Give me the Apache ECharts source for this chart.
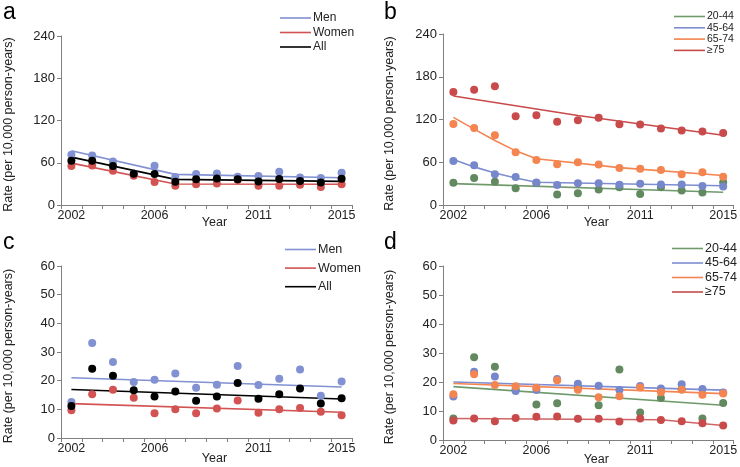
<!DOCTYPE html>
<html>
<head>
    <meta charset="utf-8">
    <title>rates</title>
    <script src="https://cdn.jsdelivr.net/npm/echarts@6/dist/echarts.min.js"></script>
</head>
<body style="margin:0">
    <div id="main" style="width: 740px;height:467px;"></div>
    <script type="text/javascript">
        // years + which ones get a label
        var years = ['2002','2003','2004','2005','2006','2007','2008','2009','2010','2011','2012','2013','2014','2015'];
        var yearLabels = ['2002','2006','2011','2015'];

        // panel a: by sex, 0-240
        var menA   = [71.3, 70.4, 61.9, 44.5, 55.7, 39.7, 43.9, 44.9, 40.2, 41.1, 47.2, 39.2, 38.3, 45.8];
        var womenA = [55.3, 56.2, 48.7, 41.6, 32.6, 27.4, 29.3, 30.7, 35.4, 27.4, 27.4, 28.8, 25.5, 29.3];
        var allA   = [62.8, 62.8, 55.3, 44.4, 43.9, 33.1, 36.4, 37.8, 36.4, 33.5, 36.8, 34.0, 32.1, 37.3];
        var menFitA   = [['2002', 77], ['2007', 43.5], ['2015', 38.7]];
        var womenFitA = [['2002', 59.5], ['2007', 29.8], ['2015', 29.5]];
        var allFitA   = [['2002', 68], ['2007', 36.4], ['2015', 33.5]];

        // panel b: by age, 0-240
        var g2044B = [31.2, 37.8, 32.6, 23.6, 31.0, 14.6, 16.5, 21.7, 25.0, 15.6, 25.0, 20.3, 17.5, 32.1];
        var g4564B = [61.9, 55.7, 43.0, 39.2, 31.7, 27.9, 30.7, 30.7, 28.3, 29.8, 28.8, 28.8, 26.5, 26.0];
        var g6574B = [113.8, 108.2, 97.8, 74.2, 63.3, 57.2, 60.0, 56.7, 52.0, 51.0, 49.1, 43.0, 45.8, 39.7];
        var g75B   = [158.7, 161.6, 166.8, 124.7, 126.1, 116.7, 119.0, 122.4, 113.4, 112.9, 107.2, 104.4, 103.0, 101.1];
        var g2044FitB = [['2002', 30], ['2015', 18]];
        var g4564FitB = [['2002', 64], ['2003', 53.5], ['2004', 45], ['2005', 38], ['2006', 32], ['2015', 27]];
        var g6574FitB = [['2002', 123], ['2003', 106.5], ['2004', 90.5], ['2005', 76], ['2006', 65], ['2010', 52.5], ['2015', 41.5]];
        var g75FitB   = [['2002', 153], ['2008', 125.5], ['2015', 98]];

        // panel c: by sex, 0-60
        var menC   = [12.6, 33.1, 26.5, 19.5, 20.3, 22.5, 17.5, 18.6, 25.1, 18.5, 20.7, 23.9, 14.7, 19.7];
        var womenC = [9.7, 15.3, 16.8, 14.0, 8.6, 10.0, 8.6, 10.3, 13.1, 8.8, 10.0, 10.5, 9.2, 7.9];
        var allC   = [11.2, 24.2, 21.7, 16.7, 14.5, 16.2, 13.0, 14.5, 19.2, 13.7, 15.3, 17.3, 12.0, 13.9];
        var menFitC   = [['2002', 21], ['2015', 17.8]];
        var womenFitC = [['2002', 12], ['2015', 9]];
        var allFitC   = [['2002', 16.9], ['2015', 13.6]];

        // panel d: by age, 0-60
        var g2044D = [7.4, 28.5, 25.3, 17.5, 12.2, 12.7, 18.0, 12.0, 24.3, 9.5, 14.5, 17.5, 7.4, 12.8];
        var g4564D = [15.0, 23.5, 21.9, 16.9, 17.2, 21.0, 19.4, 18.7, 17.2, 18.6, 17.8, 19.2, 17.6, 16.4];
        var g6574D = [15.8, 22.7, 19.0, 18.5, 18.0, 20.6, 17.3, 14.7, 15.1, 18.1, 16.5, 17.3, 15.6, 16.0];
        var g75D   = [6.7, 7.4, 6.5, 7.6, 8.0, 8.1, 7.3, 7.3, 6.4, 7.4, 6.9, 6.5, 5.8, 5.0];
        var g2044FitD = [['2002', 18.4], ['2015', 12]];
        var g4564FitD = [['2002', 20], ['2015', 17.2]];
        var g6574FitD = [['2002', 19.5], ['2015', 16]];
        var g75FitD   = [['2002', 7.4], ['2012', 7], ['2015', 5]];

        var FONT = 'Liberation Sans, Arial, sans-serif';
        var AXIS_COLOR = '#808080';
        var TEXT_COLOR = '#222';

        var grids = [
            {left: 61, top: 36, width: 291, height: 169},
            {left: 443, top: 34, width: 293, height: 171},
            {left: 61, top: 266, width: 291, height: 172},
            {left: 443, top: 266, width: 293, height: 174}
        ];

        function xAxis(i, gap) {
            return {
                type: 'category', gridIndex: i, data: years, boundaryGap: true,
                axisLine: {lineStyle: {color: AXIS_COLOR, width: 1}},
                axisTick: {show: true, interval: 0, length: 4, lineStyle: {color: AXIS_COLOR}},
                axisLabel: {
                    interval: function (idx, val) { return yearLabels.indexOf(val) >= 0; },
                    margin: 4, fontSize: 12.5, color: TEXT_COLOR, fontFamily: FONT
                },
                splitLine: {show: false},
                name: 'Year', nameLocation: 'middle', nameGap: gap, nameMoveOverlap: false,
                nameTextStyle: {fontSize: 12.5, color: TEXT_COLOR, fontFamily: FONT, padding: [0, 0, 0, 16]}
            };
        }

        function yAxis(i, max, step, gap) {
            return {
                type: 'value', gridIndex: i, min: 0, max: max, interval: step,
                axisLine: {show: true, lineStyle: {color: AXIS_COLOR, width: 1}},
                axisTick: {show: true, length: 4, lineStyle: {color: AXIS_COLOR}},
                axisLabel: {margin: 6, fontSize: 13, color: TEXT_COLOR, fontFamily: FONT},
                splitLine: {show: false},
                name: 'Rate (per 10,000 person-years)', nameLocation: 'middle', nameGap: gap,
                nameMoveOverlap: false,
                nameTextStyle: {fontSize: 12.5, color: TEXT_COLOR, fontFamily: FONT, padding: [0, 8, 0, 0]}
            };
        }

        function fit(name, i, data, color) {
            return {
                name: name, type: 'line', xAxisIndex: i, yAxisIndex: i, data: data,
                showSymbol: false, symbol: 'none', lineStyle: {color: color, width: 1.6},
                itemStyle: {color: color}, z: 2, animation: false, silent: true
            };
        }

        function dots(name, i, data, color) {
            return {
                name: name + ' pts', type: 'scatter', xAxisIndex: i, yAxisIndex: i, data: data,
                symbolSize: 8, itemStyle: {color: color, opacity: 1}, z: 3, animation: false
            };
        }

        function legend(names, left, top, size, gap) {
            return {
                data: names, orient: 'vertical', left: left, top: top, padding: 0,
                width: 120, height: 80,
                icon: 'rect', itemWidth: 31, itemHeight: 1.6, itemGap: gap,
                textStyle: {fontSize: size, color: TEXT_COLOR, fontFamily: FONT, lineHeight: size,
                    padding: [0, 0, 0, -3], overflow: 'none', width: 80},
                selectedMode: false
            };
        }

        var blue = '#8191d2', red = '#d25352', black = '#000000';
        var green = '#62895f', orange = '#f48450', red75 = '#c84a4a';

        var myChart = echarts.init(document.getElementById('main'));

        var option = {
            backgroundColor: '#ffffff',
            animation: false,
            grid: grids,
            xAxis: [xAxis(0, 11), xAxis(1, 11), xAxis(2, 14), xAxis(3, 13)],
            yAxis: [yAxis(0, 240, 60, 46), yAxis(1, 240, 60, 47), yAxis(2, 60, 10, 46), yAxis(3, 60, 10, 47)],
            legend: [
                legend(['Men', 'Women', 'All'], 280, 12, 12, 2.5),
                legend(['20-44', '45-64', '65-74', '≥75'], 674, 11, 10.5, 0.3),
                legend(['Men', 'Women', 'All'], 285, 243, 12.5, 5.6),
                legend(['20-44', '45-64', '65-74', '≥75'], 672, 242, 12.5, 1.5)
            ],
            graphic: [
                {type: 'text', left: 3, top: 1, style: {text: 'a', fontSize: 23, fontFamily: FONT, fill: '#000'}},
                {type: 'text', left: 384, top: 1, style: {text: 'b', fontSize: 23, fontFamily: FONT, fill: '#000'}},
                {type: 'text', left: 3, top: 231, style: {text: 'c', fontSize: 23, fontFamily: FONT, fill: '#000'}},
                {type: 'text', left: 384, top: 231, style: {text: 'd', fontSize: 23, fontFamily: FONT, fill: '#000'}}
            ],
            series: [
                fit('Men', 0, menFitA, blue),
                fit('Women', 0, womenFitA, red),
                fit('All', 0, allFitA, black),
                dots('Men', 0, menA, blue),
                dots('Women', 0, womenA, red),
                dots('All', 0, allA, black),

                fit('20-44', 1, g2044FitB, '#6f9a6c'),
                fit('45-64', 1, g4564FitB, '#7d8dd0'),
                fit('65-74', 1, g6574FitB, orange),
                fit('≥75', 1, g75FitB, red75),
                dots('20-44', 1, g2044B, green),
                dots('45-64', 1, g4564B, '#7787cc'),
                dots('65-74', 1, g6574B, orange),
                dots('≥75', 1, g75B, red75),

                fit('Men', 2, menFitC, blue),
                fit('Women', 2, womenFitC, red),
                fit('All', 2, allFitC, black),
                dots('Men', 2, menC, blue),
                dots('Women', 2, womenC, red),
                dots('All', 2, allC, black),

                fit('20-44', 3, g2044FitD, '#6f9a6c'),
                fit('45-64', 3, g4564FitD, '#7d8dd0'),
                fit('65-74', 3, g6574FitD, orange),
                fit('≥75', 3, g75FitD, '#d06464'),
                dots('20-44', 3, g2044D, green),
                dots('45-64', 3, g4564D, '#7787cc'),
                dots('65-74', 3, g6574D, orange),
                dots('≥75', 3, g75D, red75)
            ]
        };

        myChart.setOption(option);
    </script>
</body>
</html>
